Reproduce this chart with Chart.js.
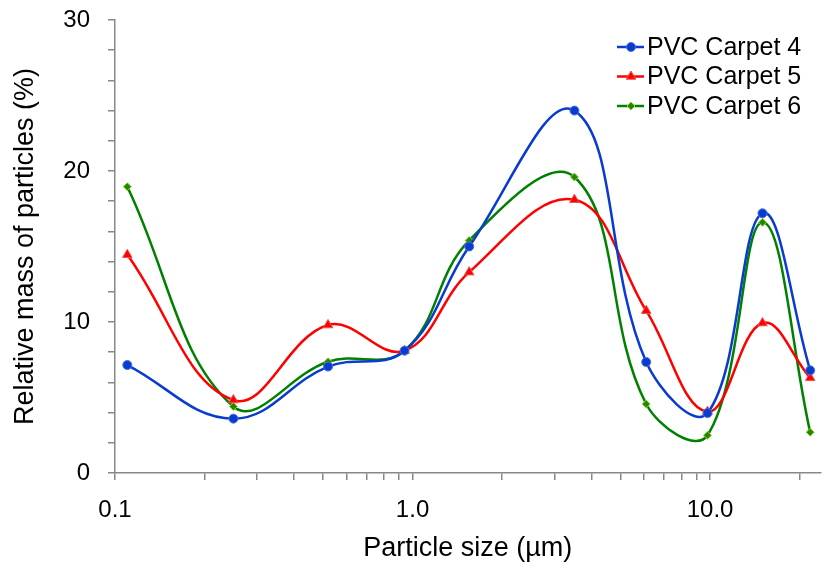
<!DOCTYPE html>
<html>
<head>
<meta charset="utf-8">
<script src="https://cdn.jsdelivr.net/npm/chart.js@4.4.0/dist/chart.umd.min.js"></script>
<style>
  html, body { margin: 0; padding: 0; background: #fff; }
</style>
</head>
<body>
<canvas id="chart" width="827" height="565"></canvas>
<script>
// particle size (µm) and relative mass (%) per carpet
const sizes = [0.11, 0.25, 0.52, 0.94, 1.55, 3.5, 6.1, 9.8, 15, 21.7];
const carpet4 = [7.15, 3.6, 7.05, 8.1, 15.0, 24.0, 7.35, 3.97, 17.2, 6.8];
const carpet5 = [14.45, 4.83, 9.8, 8.1, 13.3, 18.1, 10.75, 4.06, 9.93, 6.3];
const carpet6 = [18.96, 4.4, 7.37, 8.1, 15.4, 19.6, 4.57, 2.5, 16.6, 2.7];

const xTicks = [0.1, 0.2, 0.3, 0.4, 0.5, 0.6, 0.7, 0.8, 0.9,
  1, 2, 3, 4, 5, 6, 7, 8, 9, 10, 20];
const xLabelValues = [0.1, 1, 10];
const xLabelTexts = ["0.1", "1.0", "10.0"];

Chart.defaults.font.family = '"Liberation Sans", Arial, sans-serif';

const toPoints = (vals) => vals.map((v, i) => ({ x: sizes[i], y: v }));

// legend drawn by hand: line sample with marker, like the original
const lineLegend = {
  id: "lineLegend",
  afterDraw(chart) {
    const ctx = chart.ctx;
    chart.data.datasets.forEach((ds, i) => {
      const y = 47 + i * 29.5;
      ctx.save();
      ctx.strokeStyle = ds.borderColor;
      ctx.lineWidth = 2.5;
      ctx.beginPath();
      ctx.moveTo(617, y);
      ctx.lineTo(644, y);
      ctx.stroke();
      ctx.fillStyle = ds.pointBackgroundColor;
      ctx.strokeStyle = ds.pointBorderColor;
      ctx.lineWidth = 1;
      Chart.helpers.drawPoint(ctx, { pointStyle: ds.pointStyle, radius: ds.pointRadius, borderWidth: 1, rotation: 0 }, 631, y);
      ctx.fillStyle = "#000";
      ctx.font = '25px "Liberation Sans", Arial, sans-serif';
      ctx.textBaseline = "middle";
      ctx.textAlign = "left";
      ctx.fillText(ds.label, 647, y + 1);
      ctx.restore();
    });
  },
};

new Chart(document.getElementById("chart"), {
  type: "line",
  data: {
    datasets: [
      {
        label: "PVC Carpet 4",
        data: toPoints(carpet4),
        borderColor: "#0a3bcf",
        pointBackgroundColor: "#0a3bcf",
        pointBorderColor: "#4a6fe0",
        pointStyle: "circle",
        pointRadius: 4.5,
      },
      {
        label: "PVC Carpet 5",
        data: toPoints(carpet5),
        borderColor: "#ff0000",
        pointBackgroundColor: "#ff0000",
        pointBorderColor: "#f05050",
        pointStyle: "triangle",
        pointRadius: 5.5,
      },
      {
        label: "PVC Carpet 6",
        data: toPoints(carpet6),
        borderColor: "#008000",
        pointBackgroundColor: "#1f8a00",
        pointBorderColor: "#9ccc3c",
        pointStyle: "rectRot",
        pointRadius: 4,
      },
    ].map((ds) => ({
      ...ds,
      fill: false,
      borderWidth: 2.5,
      pointBorderWidth: 1,
      tension: 0.4,
      clip: false,
    })),
  },
  options: {
    responsive: false,
    animation: false,
    layout: { padding: { top: 20, right: 0, left: 0, bottom: 0 } },
    plugins: { legend: { display: false }, tooltip: { enabled: false } },
    scales: {
      x: {
        type: "logarithmic",
        min: 0.1,
        max: 23.5,
        afterFit(s) { s.height = 92; s.paddingLeft = 0; s.paddingRight = 0; },
        afterBuildTicks(s) { s.ticks = xTicks.map((v) => ({ value: v })); },
        grid: { drawOnChartArea: false, drawTicks: true, tickLength: 7, color: "#888", lineWidth: 1.5 },
        border: { color: "#888", width: 1.5 },
        ticks: {
          autoSkip: false,
          maxRotation: 0,
          padding: 16,
          color: "#000",
          font: { size: 24 },
          callback(v) {
            const k = xLabelValues.indexOf(v);
            return k >= 0 ? xLabelTexts[k] : "";
          },
        },
        title: {
          display: true,
          text: "Particle size (µm)",
          color: "#000",
          font: { size: 27 },
          padding: { top: 0, bottom: 0 },
        },
      },
      y: {
        min: 0,
        max: 30,
        // keep the plot top at the layout padding, labels may overhang
        afterFit(s) { s.width = 115; s.paddingTop = 0; s.paddingBottom = 0; },
        grid: { drawOnChartArea: false, drawTicks: true, tickLength: 7, color: "#888", lineWidth: 1.5 },
        border: { color: "#888", width: 1.5 },
        ticks: {
          autoSkip: false,
          stepSize: 2,
          padding: 18,
          color: "#000",
          font: { size: 24 },
          callback(v) { return v % 10 === 0 ? String(v) : ""; },
        },
        title: {
          display: true,
          text: "Relative mass of particles (%)",
          color: "#000",
          font: { size: 27 },
          padding: { top: 9, bottom: 0 },
        },
      },
    },
  },
  plugins: [lineLegend],
});
</script>
</body>
</html>
